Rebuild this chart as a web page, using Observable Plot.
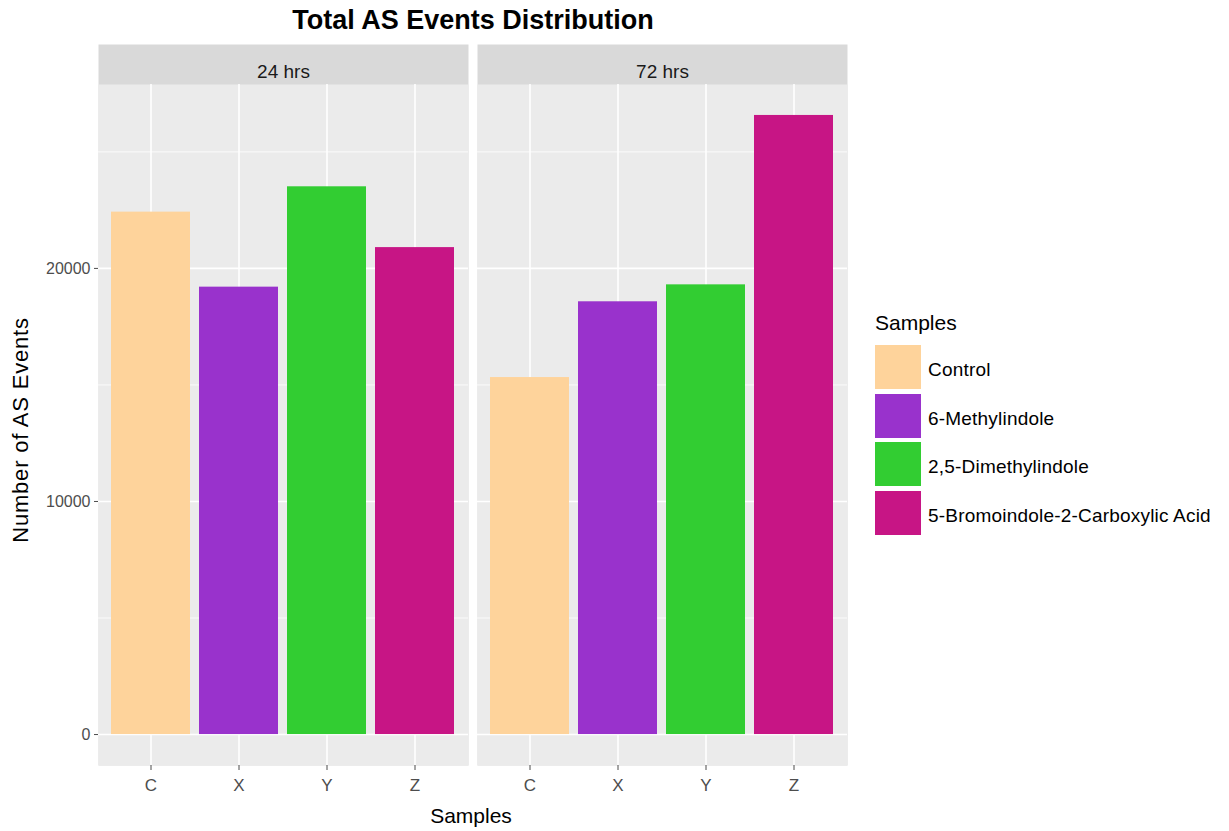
<!DOCTYPE html>
<html>
<head>
<meta charset="utf-8">
<script src="https://cdn.jsdelivr.net/npm/d3@7"></script>
<script src="https://cdn.jsdelivr.net/npm/@observablehq/plot@0.6"></script>
<style>
  body { margin: 0; background: white; font-family: "Liberation Sans", Arial, sans-serif; }
  #wrap { position: relative; width: 1229px; height: 831px; overflow: hidden; }
  #wrap svg { position: absolute; left: 0; top: 0; }
  .abs { position: absolute; white-space: nowrap; line-height: 1; }
</style>
</head>
<body>
<div id="wrap"></div>
<script>
// ---- data ----
const times = ["24 hrs", "72 hrs"];
const samples = ["C", "X", "Y", "Z"];
const sampleNames = ["Control", "6-Methylindole", "2,5-Dimethylindole", "5-Bromoindole-2-Carboxylic Acid"];
const sampleColors = ["#FED39B", "#9932CC", "#32CD32", "#C71585"];
const values24 = [22415, 19196, 23502, 20893];
const values72 = [15318, 18568, 19295, 26563];
const yTicks = [0, 10000, 20000];
const yMinor = [5000, 15000, 25000];
const titleText = "Total AS Events Distribution";
const xTitle = "Samples";
const yTitle = "Number of AS Events";
const legendTitle = "Samples";

const rows = [];
samples.forEach((s, i) => rows.push({time: times[0], sample: s, value: values24[i]}));
samples.forEach((s, i) => rows.push({time: times[1], sample: s, value: values72[i]}));

const maxV = d3.max(rows, d => d.value);
const pad = maxV * 0.05;

const chart = Plot.plot({
  width: 1229,
  height: 831,
  marginTop: 84,
  marginBottom: 66,
  marginLeft: 98,
  marginRight: 381,
  style: {fontFamily: "'Liberation Sans', Arial, sans-serif", background: "white", overflow: "visible"},
  fx: {domain: times, paddingInner: 9 / 379.5, paddingOuter: 0, axis: null, label: null},
  x: {domain: samples, paddingInner: 0.1, paddingOuter: 0.15, axis: null, label: null},
  y: {domain: [-pad, maxV + pad], axis: null, label: null},
  color: {domain: samples, range: sampleColors},
  marks: [
    Plot.frame({fill: "#D9D9D9", stroke: null, insetTop: -40}),
    Plot.frame({fill: "#EBEBEB", stroke: null}),
    Plot.ruleY(yMinor, {stroke: "white", strokeWidth: 0.8}),
    Plot.ruleY(yTicks, {stroke: "white", strokeWidth: 1.6}),
    Plot.ruleX(samples, {x: d => d, stroke: "white", strokeWidth: 1.6}),
    Plot.barY(rows, {fx: "time", x: "sample", y: "value", fill: "sample"}),
    Plot.text(times, {fx: d => d, text: d => d, frameAnchor: "top", dy: -20, fontSize: 19, fill: "#1A1A1A"}),
    Plot.axisY({ticks: yTicks, tickFormat: d => String(d), tickSize: 4, tickPadding: 4, fontSize: 16, color: "#4D4D4D", label: null}),
    Plot.axisX({ticks: samples, tickSize: 5, tickPadding: 8, fontSize: 17, color: "#4D4D4D", label: null})
  ]
});

const wrap = document.getElementById("wrap");
wrap.appendChild(chart);

function addText(txt, style) {
  const d = document.createElement("div");
  d.className = "abs";
  d.textContent = txt;
  Object.assign(d.style, style);
  wrap.appendChild(d);
  return d;
}

// title
addText(titleText, {left: "473px", top: "7px", transform: "translateX(-50%)", fontSize: "27px", fontWeight: "bold", color: "#000"});
// axis titles
addText(xTitle, {left: "471px", top: "805px", transform: "translateX(-50%)", fontSize: "21px", color: "#000"});
addText(yTitle, {left: "21px", top: "430px", transform: "translate(-50%,-50%) rotate(-90deg)", fontSize: "22px", letterSpacing: "0.8px", color: "#000"});
// legend
addText(legendTitle, {left: "875px", top: "312px", fontSize: "21px", color: "#000"});
sampleNames.forEach((name, i) => {
  const top = 345 + i * 48.5;
  const key = document.createElement("div");
  Object.assign(key.style, {position: "absolute", left: "875px", top: top + "px", width: "46px", height: "44px", background: sampleColors[i]});
  wrap.appendChild(key);
  addText(name, {left: "928px", top: (top + 15) + "px", fontSize: "19px", letterSpacing: "0.2px", color: "#000"});
});
</script>
</body>
</html>
